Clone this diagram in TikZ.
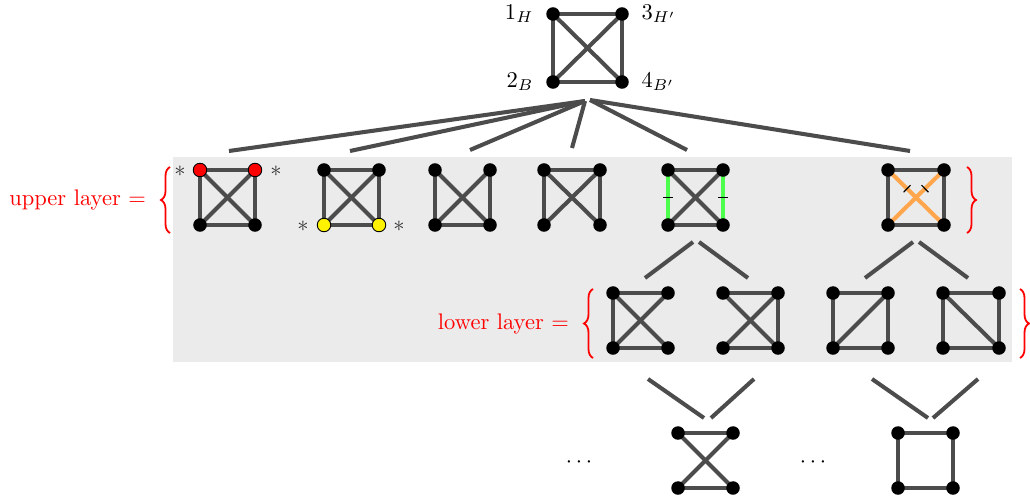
\documentclass[tikz,border=0pt]{standalone}
\usepackage{xcolor}
\usepackage{amsmath}
\usepackage{amssymb}
\usepackage{tikz}
\usetikzlibrary{positioning,decorations.pathreplacing,decorations.markings}
\pgfdeclarelayer{background}
\pgfsetlayers{background,main}
\tikzset{
    vtx/.style={
        circle,
        fill=black,
        inner sep=0pt,
        minimum size=6pt
    },
    redvtx/.style={vtx, fill=red, draw=black, line width=0.4pt},
    yelvtx/.style={vtx, fill=yellow, draw=black, line width=0.4pt},
    gedge/.style={line width=1.8pt, black!70},
    link/.style={line width=1.8pt, black!70},
    hit/.style={green!70},
    sym/.style={orange!70},
    tickmark/.style={
        postaction={decorate},
        decoration={
            markings,
            mark=at position #1 with {\draw[black, line width=0.5pt] (0,-2.2pt) -- (0,2.2pt);}
        }
    },
    layerbrace/.style={
        decorate,
        decoration={brace, amplitude=4pt},
        red,
        line width=0.8pt
    },
    starmark/.style={text=black!80, inner sep=1pt}
}
% four corners: 1 top left, 2 bottom left, 3 top right, 4 bottom right
\newcommand{\sqgraph}[5]{%
    \node[vtx] (#1-1) at (#2,#3) {};
    \node[vtx] (#1-2) at (#2,#5) {};
    \node[vtx] (#1-3) at (#4,#3) {};
    \node[vtx] (#1-4) at (#4,#5) {};
}
\newcommand{\gedges}[2]{%
    \begin{pgfonlayer}{background}
        \foreach \a/\b in {#2} \draw[gedge] (#1-\a.center) -- (#1-\b.center);
    \end{pgfonlayer}
}

\begin{document}
\begin{tikzpicture}[x=0.444pt, y=-0.444pt]
    \useasboundingbox (0,0) rectangle (1030,500);
    \begin{pgfonlayer}{background}
        \fill[black!8] (173,157) rectangle (1012,362);
    \end{pgfonlayer}

    % root
    \sqgraph{t}{553}{14}{622}{82}
    \gedges{t}{1/3,2/4,1/2,3/4,1/4,3/2}
    \node[left=2pt of t-1] (t-1-lab) {$1_H$};
    \node[left=2pt of t-2] (t-2-lab) {$2_B$};
    \node[right=2pt of t-3] (t-3-lab) {$3_{H'}$};
    \node[right=2pt of t-4] (t-4-lab) {$4_{B'}$};

    % upper layer
    \node[redvtx] (u1-1) at (200,170) {};
    \node[vtx] (u1-2) at (200,225) {};
    \node[redvtx] (u1-3) at (255,170) {};
    \node[vtx] (u1-4) at (255,225) {};
    \gedges{u1}{1/3,2/4,1/2,3/4,1/4,3/2}
    \node[starmark] (s1) at (180,171) {$\ast$};
    \node[starmark] (s2) at (276,171) {$\ast$};

    \node[vtx] (u2-1) at (324,170) {};
    \node[yelvtx] (u2-2) at (324,225) {};
    \node[vtx] (u2-3) at (379,170) {};
    \node[yelvtx] (u2-4) at (379,225) {};
    \gedges{u2}{1/3,2/4,1/2,3/4,1/4,3/2}
    \node[starmark] (s3) at (303,226) {$\ast$};
    \node[starmark] (s4) at (399,226) {$\ast$};

    \sqgraph{u3}{435}{170}{490}{225}
    \gedges{u3}{1/2,3/4,2/4,1/4,3/2}
    \sqgraph{u4}{544}{170}{600}{225}
    \gedges{u4}{1/2,3/4,1/3,1/4,3/2}

    \sqgraph{u5}{668}{170}{723}{225}
    \gedges{u5}{1/3,2/4,1/4,3/2}
    \begin{pgfonlayer}{background}
        \draw[gedge, hit, tickmark=0.5] (u5-1.center) -- (u5-2.center);
        \draw[gedge, hit, tickmark=0.5] (u5-3.center) -- (u5-4.center);
    \end{pgfonlayer}

    \sqgraph{u6}{888}{170}{944}{225}
    \gedges{u6}{1/3,2/4,1/2,3/4}
    \begin{pgfonlayer}{background}
        \draw[gedge, sym, tickmark=0.34] (u6-1.center) -- (u6-4.center);
        \draw[gedge, sym, tickmark=0.34] (u6-3.center) -- (u6-2.center);
    \end{pgfonlayer}

    % lower layer
    \sqgraph{l1}{613}{293}{668}{348}
    \gedges{l1}{1/2,1/3,2/4,1/4,3/2}
    \sqgraph{l2}{723}{293}{778}{348}
    \gedges{l2}{3/4,1/3,2/4,1/4,3/2}
    \sqgraph{l3}{833}{293}{888}{348}
    \gedges{l3}{1/2,3/4,1/3,2/4,2/3}
    \sqgraph{l4}{943}{293}{999}{348}
    \gedges{l4}{1/2,3/4,1/3,2/4,1/4}

    % bottom row
    \sqgraph{b1}{678}{433}{733}{488}
    \gedges{b1}{1/3,2/4,1/4,3/2}
    \sqgraph{b2}{898}{433}{953}{488}
    \gedges{b2}{1/2,3/4,1/3,2/4}
    \node (dots1) at (581,462) {$\cdots$};
    \node (dots2) at (815,462) {$\cdots$};

    % braces
    \draw[layerbrace] (170,233) -- (170,167) node[midway, left=7pt] (up-lab) {upper layer $=$};
    \draw[layerbrace] (967,167) -- (967,233);
    \draw[layerbrace] (593,358) -- (593,289) node[midway, left=7pt] (low-lab) {lower layer $=$};
    \draw[layerbrace] (1020,289) -- (1020,358);

    % connectors
    \coordinate (hub-l) at (585,101);
    \coordinate (hub-r) at (590,100);
    \foreach \g/\x/\y in {u1/229/151, u2/350/151, u3/470/150, u4/572/148, u5/687/150, u6/910/151}
        \coordinate (\g-in) at (\x,\y);
    \foreach \g in {u1,u2,u3,u4} \draw[link] (hub-l) -- (\g-in);
    \foreach \g in {u5,u6} \draw[link] (hub-r) -- (\g-in);

    \coordinate (u5-out-l) at (693,242);
    \coordinate (u5-out-r) at (699,242);
    \coordinate (u6-out-l) at (913,242);
    \coordinate (u6-out-r) at (919,242);
    \coordinate (l1-in) at (645,278);
    \coordinate (l2-in) at (748,278);
    \coordinate (l3-in) at (865,278);
    \coordinate (l4-in) at (968,278);
    \coordinate (l1-out) at (648,379);
    \coordinate (l2-out) at (754,379);
    \coordinate (l3-out) at (872,379);
    \coordinate (l4-out) at (978,379);
    \coordinate (b1-in-l) at (704,418);
    \coordinate (b1-in-r) at (711,418);
    \coordinate (b2-in-l) at (928,418);
    \coordinate (b2-in-r) at (933,418);
    \foreach \a/\b in {u5-out-l/l1-in, u5-out-r/l2-in, u6-out-l/l3-in, u6-out-r/l4-in,
                       l1-out/b1-in-l, l2-out/b1-in-r, l3-out/b2-in-l, l4-out/b2-in-r}
        \draw[link] (\a) -- (\b);
\end{tikzpicture}
\end{document}
